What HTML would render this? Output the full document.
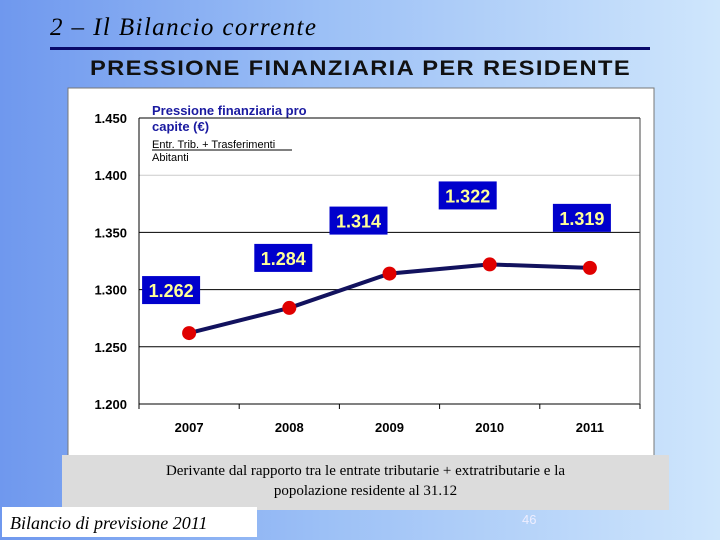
<!DOCTYPE html>
<html><head><meta charset="utf-8">
<style>
body{margin:0;width:720px;height:540px;overflow:hidden;position:relative;font-family:"Liberation Sans",sans-serif;
background:linear-gradient(90deg,#6f98ee 0%,#9cc0f6 45%,#cfe6fc 100%);}
.abs{position:absolute}
</style></head><body>
<div class="abs" style="left:50px;top:14px;font-family:'Liberation Serif',serif;font-style:italic;font-size:25px;letter-spacing:1.4px;color:#000">2 – Il Bilancio corrente</div>
<div class="abs" style="left:50px;top:47px;width:600px;height:3px;background:#0a0a6a"></div>
<div class="abs" style="left:90px;top:57px;font-size:21px;font-weight:bold;letter-spacing:1.2px;transform:scaleX(1.13);transform-origin:left;color:#111">PRESSIONE FINANZIARIA PER RESIDENTE</div>
<svg class="abs" style="left:0;top:0" width="720" height="540">
<rect x="68" y="88" width="586" height="370" fill="#fff" stroke="#777"/>
<g id="g"></g>
</svg>
<div class="abs" style="left:62px;top:455px;width:607px;height:55px;background:#dcdcdc;font-family:'Liberation Serif',serif;font-size:15px;text-align:center;color:#000;line-height:20px;padding-top:6px;box-sizing:border-box">Derivante dal rapporto tra le entrate tributarie + extratributarie e la<br>popolazione residente al 31.12</div>
<div class="abs" style="left:2px;top:507px;width:255px;height:30px;background:#fff;font-family:'Liberation Serif',serif;font-style:italic;font-size:18px;line-height:32px;padding-left:8px;box-sizing:border-box">Bilancio di previsione 2011</div>
<div class="abs" style="left:522px;top:512px;font-size:13px;color:#eef">46</div>
<script>
const categories=["2007","2008","2009","2010","2011"];
const values=[1262,1284,1314,1322,1319];
const valueLabels=["1.262","1.284","1.314","1.322","1.319"];
const yTicks=[1200,1250,1300,1350,1400,1450];
const yTickLabels=["1.200","1.250","1.300","1.350","1.400","1.450"];
const labelDx=[-18,-6,-31,-22,-8], labelDy=[-43,-50,-53,-69,-50];
const L=139,R=640,T=118,B=404;
const y=v=>B-(v-1200)/250*(B-T);
const bw=(R-L)/categories.length;
const x=i=>L+bw*(i+0.5);
const g=document.getElementById('g');const NS="http://www.w3.org/2000/svg";
function mk(t,a,txt){const e=document.createElementNS(NS,t);for(const k in a)e.setAttribute(k,a[k]);if(txt!=null)e.textContent=txt;g.appendChild(e);return e;}
yTicks.forEach((v,i)=>{
 const l=mk('line',{x1:L,x2:R,y1:y(v),y2:y(v),stroke:v==1400?'#ccc':'#000','stroke-width':1});
 
 
 const t=mk('text',{x:127,y:y(v)+5,'text-anchor':'end','font-size':13,'font-weight':'bold','font-family':'Liberation Sans'},yTickLabels[i]);
 
 
});
mk('line',{x1:L,x2:L,y1:T,y2:B,stroke:'#000'});
mk('line',{x1:R,x2:R,y1:T,y2:B,stroke:'#444'});
for(let i=0;i<=categories.length;i++)mk('line',{x1:L+bw*i,x2:L+bw*i,y1:B,y2:B+5,stroke:'#000'});
categories.forEach((c,i)=>{
 const t=mk('text',{x:x(i),y:432,'text-anchor':'middle','font-size':13,'font-weight':'bold','font-family':'Liberation Sans'},c);
 
 
});
const ln=mk('polyline',{points:values.map((v,i)=>x(i)+','+y(v)).join(' '),fill:'none',stroke:'#12125e','stroke-width':4});


values.forEach((v,i)=>{
 const c=mk('circle',{cx:x(i),cy:y(v),r:7,fill:'#e00000'});
 
 
 const bx=x(i)+labelDx[i]-29,by=y(v)+labelDy[i]-14;
 const r=mk('rect',{x:bx,y:by,width:58,height:28,fill:'#0000cc'});
 
 
 const t=mk('text',{x:bx+29,y:by+21,'text-anchor':'middle','font-size':18,'font-weight':'bold','font-family':'Liberation Sans',fill:'#ffff99'},valueLabels[i]);
 
 
});
const lt=[["Pressione finanziaria pro",115,13,'bold','#1a1aa0'],["capite (€)",131,13,'bold','#1a1aa0'],["Entr. Trib. + Trasferimenti",148,11,'normal','#000'],["Abitanti",161,11,'normal','#000']];
lt.forEach(a=>{const t=mk('text',{x:152,y:a[1],'font-size':a[2],'font-weight':a[3],fill:a[4],'font-family':'Liberation Sans'},a[0]);
 
 });
mk('line',{x1:152,x2:292,y1:150,y2:150,stroke:'#000','stroke-width':1});
</script>
</body></html>
